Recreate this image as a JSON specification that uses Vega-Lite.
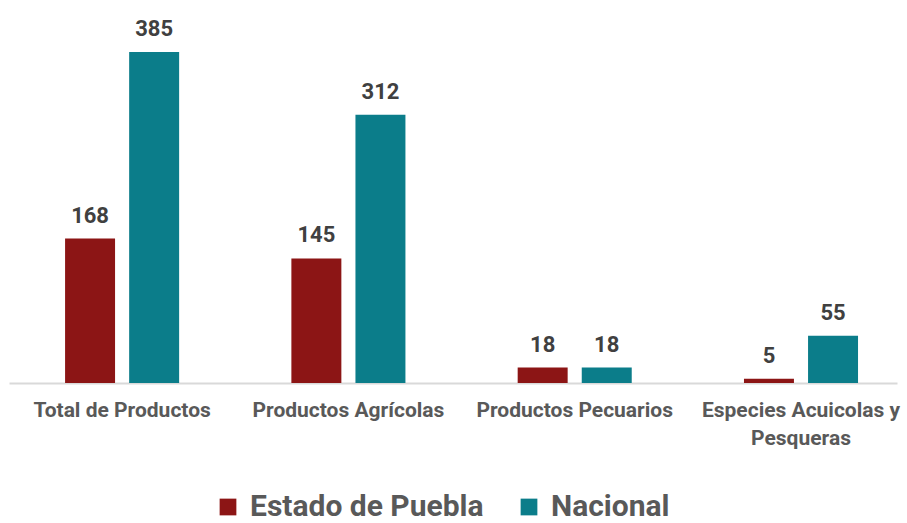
{
  "$schema": "https://vega.github.io/schema/vega-lite/v6.json",
  "width": 888,
  "height": 373,
  "autosize": {"type": "none"},
  "padding": {"left": 9, "top": 10, "right": 10, "bottom": 140},
  "background": "white",
  "config": {
    "view": {"stroke": null},
    "font": "Roboto"
  },
  "data": {
    "values": [
      {"categoria": "Total de Productos", "serie": "Estado de Puebla", "valor": 168},
      {"categoria": "Total de Productos", "serie": "Nacional", "valor": 385},
      {"categoria": "Productos Agrícolas", "serie": "Estado de Puebla", "valor": 145},
      {"categoria": "Productos Agrícolas", "serie": "Nacional", "valor": 312},
      {"categoria": "Productos Pecuarios", "serie": "Estado de Puebla", "valor": 18},
      {"categoria": "Productos Pecuarios", "serie": "Nacional", "valor": 18},
      {"categoria": "Especies Acuicolas y Pesqueras", "serie": "Estado de Puebla", "valor": 5},
      {"categoria": "Especies Acuicolas y Pesqueras", "serie": "Nacional", "valor": 55}
    ]
  },
  "encoding": {
    "x": {
      "field": "categoria",
      "type": "nominal",
      "sort": null,
      "scale": {"paddingInner": 0.496, "paddingOuter": 0.21, "align": 0.59},
      "axis": {
        "title": null,
        "labelAngle": 0,
        "ticks": false,
        "domainColor": "#D9D9D9",
        "domainWidth": 2,
        "labelFont": "Roboto",
        "labelFontSize": 21,
        "labelFontWeight": "bold",
        "labelColor": "#595959",
        "labelPadding": 16,
        "labelLineHeight": 28,
        "labelLimit": 300,
        "labelExpr": "datum.label == 'Especies Acuicolas y Pesqueras' ? ['Especies Acuicolas y', 'Pesqueras'] : datum.label"
      }
    },
    "xOffset": {
      "field": "serie",
      "type": "nominal",
      "scale": {"paddingInner": 0.22, "paddingOuter": 0}
    },
    "y": {
      "field": "valor",
      "type": "quantitative",
      "scale": {"domain": [0, 434], "nice": false},
      "axis": null
    }
  },
  "layer": [
    {
      "mark": {"type": "bar"},
      "encoding": {
        "color": {
          "field": "serie",
          "type": "nominal",
          "scale": {"domain": ["Estado de Puebla", "Nacional"], "range": ["#8C1515", "#0B7D8A"]},
          "legend": {
            "title": null,
            "orient": "none",
            "direction": "horizontal",
            "legendX": 204,
            "legendY": 482,
            "symbolType": "square",
            "symbolSize": 280,
            "symbolStrokeWidth": 0,
            "labelFontSize": 30,
            "labelFontWeight": "bold",
            "labelColor": "#595959",
            "labelOffset": 7,
            "columnPadding": 30,
            "labelLimit": 400
          }
        }
      }
    },
    {
      "mark": {"type": "text", "baseline": "alphabetic", "dy": -16, "fontSize": 22, "fontWeight": "bold", "color": "#404040"},
      "encoding": {
        "text": {"field": "valor", "type": "quantitative"}
      }
    }
  ]
}
